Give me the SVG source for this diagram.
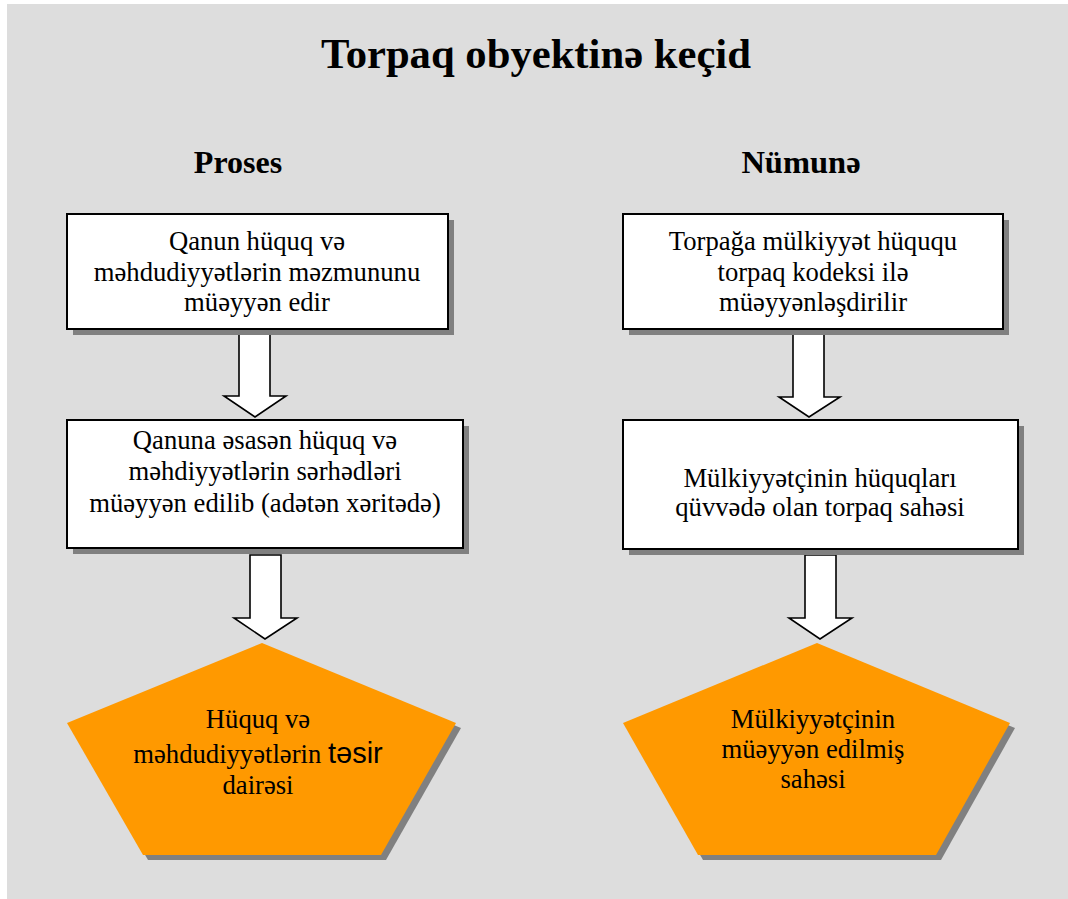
<svg xmlns="http://www.w3.org/2000/svg" width="1068" height="899" viewBox="0 0 1068 899">
<style>
.bg{fill:#dddddd}
.shadow{fill:#808080}
.box{fill:#ffffff;stroke:#000000;stroke-width:2}
.pent{fill:#ff9900}
.arrow{fill:#ffffff;stroke:#000000;stroke-width:1.6;stroke-linejoin:miter}
.t{font-family:"Liberation Serif","Times New Roman",serif;font-size:26.67px;fill:#000;text-anchor:middle}
.h{font-family:"Liberation Serif","Times New Roman",serif;font-weight:bold;fill:#000;text-anchor:middle}
</style>
<rect class="bg" x="7" y="4" width="1061" height="895"/>
<text class="h" x="536" y="68" font-size="42.67">Torpaq obyektinə keçid</text>
<text class="h" x="238" y="173" font-size="32">Proses</text>
<text class="h" x="801" y="173" font-size="32.5">Nümunə</text>

<g id="connectors">
<polygon class="arrow" points="239,333 270,333 270,396 286,396 255,417 224,396 239,396"/>
<polygon class="arrow" points="250,555 281,555 281,618 297,618 265,639 234,618 250,618"/>
<polygon class="arrow" points="793,333 824,333 824,397 840,397 809,417 779,397 793,397"/>
<polygon class="arrow" points="805,555 836,555 836,618 852,618 820,639 789,618 805,618"/>
</g>

<g id="box1">
<rect class="shadow" x="73" y="220" width="381" height="115"/>
<rect class="box" x="67" y="214" width="381" height="115"/>
<text class="t" x="257" y="250">Qanun hüquq və</text>
<text class="t" x="257" y="281">məhdudiyyətlərin məzmununu</text>
<text class="t" x="257" y="311">müəyyən edir</text>
</g>

<g id="box2">
<rect class="shadow" x="73" y="426" width="396" height="128"/>
<rect class="box" x="67" y="420" width="396" height="128"/>
<text class="t" x="265" y="449">Qanuna əsasən hüquq və</text>
<text class="t" x="265" y="480">məhdiyyətlərin sərhədləri</text>
<text class="t" x="265" y="512">müəyyən edilib (adətən xəritədə)</text>
</g>

<g id="box3">
<rect class="shadow" x="629" y="220" width="380" height="115"/>
<rect class="box" x="623" y="214" width="380" height="115"/>
<text class="t" x="813" y="250">Torpağa mülkiyyət hüququ</text>
<text class="t" x="813" y="281">torpaq kodeksi ilə</text>
<text class="t" x="813" y="311">müəyyənləşdirilir</text>
</g>

<g id="box4">
<rect class="shadow" x="629" y="426" width="395" height="129"/>
<rect class="box" x="623" y="420" width="395" height="129"/>
<text class="t" x="820" y="487">Mülkiyyətçinin hüquqları</text>
<text class="t" x="820" y="516">qüvvədə olan torpaq sahəsi</text>
</g>

<g id="pent1">
<polygon class="shadow" points="267,648 461,728 386,860 148,860 72,728"/>
<polygon class="pent" points="262,643 456,723 381,855 143,855 67,723"/>
<text class="t" x="258" y="728">Hüquq və</text>
<text class="t" x="258" y="763">məhdudiyyətlərin <tspan font-family="'Liberation Sans',Arial,sans-serif" font-size="29">təsir</tspan></text>
<text class="t" x="258" y="794">dairəsi</text>
</g>

<g id="pent2">
<polygon class="shadow" points="822,648 1015,728 941,860 703,860 628,728"/>
<polygon class="pent" points="817,643 1010,723 936,855 698,855 623,723"/>
<text class="t" x="813" y="728">Mülkiyyətçinin</text>
<text class="t" x="813" y="758">müəyyən edilmiş</text>
<text class="t" x="813" y="788">sahəsi</text>
</g>
</svg>
